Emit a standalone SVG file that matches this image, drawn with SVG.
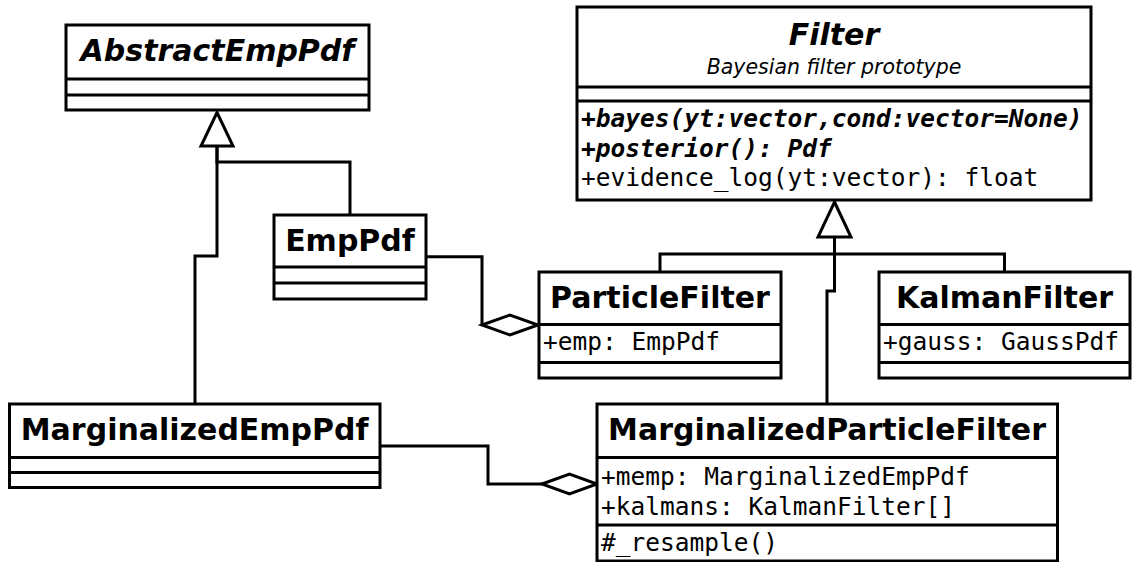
<svg xmlns="http://www.w3.org/2000/svg" width="1132" height="562" viewBox="0 0 1132 562">
<style>
.box{fill:#fff;stroke:#000;stroke-width:3}
.dv{stroke:#000;stroke-width:3}
.t{font-family:"DejaVu Sans",sans-serif;font-weight:bold;font-size:30px;text-anchor:middle;fill:#000}
.ti{font-style:italic}
.sub{font-family:"DejaVu Sans",sans-serif;font-style:italic;font-size:20.5px;text-anchor:middle;fill:#000}
.m{font-family:"DejaVu Sans Mono",monospace;font-size:24.5px;fill:#000}
.mb{font-weight:bold;font-style:italic}
.c{fill:none;stroke:#000;stroke-width:3}
.hd{fill:#fff;stroke:#000;stroke-width:3;stroke-linejoin:miter}
</style>
<rect width="1132" height="562" fill="#fff"/>
<g id="connectors">
  <path class="c" d="M350,215 V162 H217 V146"/>
  <path class="c" d="M195,404 V256 H217 V146"/>
  <polygon class="hd" points="217,112.5 233,146 201,146"/>
  <path class="c" d="M660,272 V254 H1004.5 V272"/>
  <path class="c" d="M827,404 V291 H834.5 V237"/>
  <polygon class="hd" points="834.5,202 851,237 818,237"/>
  <path class="c" d="M426,256.7 H482 V325"/>
  <polygon class="hd" points="482,325 510,315 538,325 510,335"/>
  <path class="c" d="M380,446 H488 V484 H542"/>
  <polygon class="hd" points="542,484 569.5,474 597,484 569.5,494"/>
</g>
<g id="AbstractEmpPdf">
  <rect class="box" x="66" y="25" width="303" height="85"/>
  <line class="dv" x1="66" y1="79" x2="369" y2="79"/>
  <line class="dv" x1="66" y1="95" x2="369" y2="95"/>
  <text class="t ti" x="217.5" y="61">AbstractEmpPdf</text>
</g>
<g id="Filter">
  <rect class="box" x="577" y="7" width="514" height="193"/>
  <line class="dv" x1="577" y1="87" x2="1091" y2="87"/>
  <line class="dv" x1="577" y1="101" x2="1091" y2="101"/>
  <text class="t ti" x="834" y="45">Filter</text>
  <text class="sub" x="834" y="74">Bayesian filter prototype</text>
  <text class="m mb" x="581" y="127">+bayes(yt:vector,cond:vector=None)</text>
  <text class="m mb" x="581" y="156.5">+posterior(): Pdf</text>
  <text class="m" x="581" y="186">+evidence_log(yt:vector): float</text>
</g>
<g id="EmpPdf">
  <rect class="box" x="274" y="215" width="152" height="84"/>
  <line class="dv" x1="274" y1="267" x2="426" y2="267"/>
  <line class="dv" x1="274" y1="283" x2="426" y2="283"/>
  <text class="t" x="350" y="251">EmpPdf</text>
</g>
<g id="ParticleFilter">
  <rect class="box" x="539" y="272" width="242" height="106"/>
  <line class="dv" x1="539" y1="324.5" x2="781" y2="324.5"/>
  <line class="dv" x1="539" y1="362.5" x2="781" y2="362.5"/>
  <text class="t" x="660" y="308">ParticleFilter</text>
  <text class="m" x="543" y="350">+emp: EmpPdf</text>
</g>
<g id="KalmanFilter">
  <rect class="box" x="879" y="272" width="251" height="106"/>
  <line class="dv" x1="879" y1="324.5" x2="1130" y2="324.5"/>
  <line class="dv" x1="879" y1="362.5" x2="1130" y2="362.5"/>
  <text class="t" x="1004.5" y="308">KalmanFilter</text>
  <text class="m" x="883" y="350">+gauss: GaussPdf</text>
</g>
<g id="MarginalizedEmpPdf">
  <rect class="box" x="9.5" y="404" width="370.5" height="83.5"/>
  <line class="dv" x1="9.5" y1="457.5" x2="380" y2="457.5"/>
  <line class="dv" x1="9.5" y1="472.5" x2="380" y2="472.5"/>
  <text class="t" x="194.7" y="440">MarginalizedEmpPdf</text>
</g>
<g id="MarginalizedParticleFilter">
  <rect class="box" x="597" y="404" width="460.5" height="157"/>
  <line class="dv" x1="597" y1="457.5" x2="1057.5" y2="457.5"/>
  <line class="dv" x1="597" y1="525" x2="1057.5" y2="525"/>
  <text class="t" x="827" y="440">MarginalizedParticleFilter</text>
  <text class="m" x="601" y="484.5">+memp: MarginalizedEmpPdf</text>
  <text class="m" x="601" y="514.5">+kalmans: KalmanFilter[]</text>
  <text class="m" x="601" y="551">#_resample()</text>
</g>
</svg>
